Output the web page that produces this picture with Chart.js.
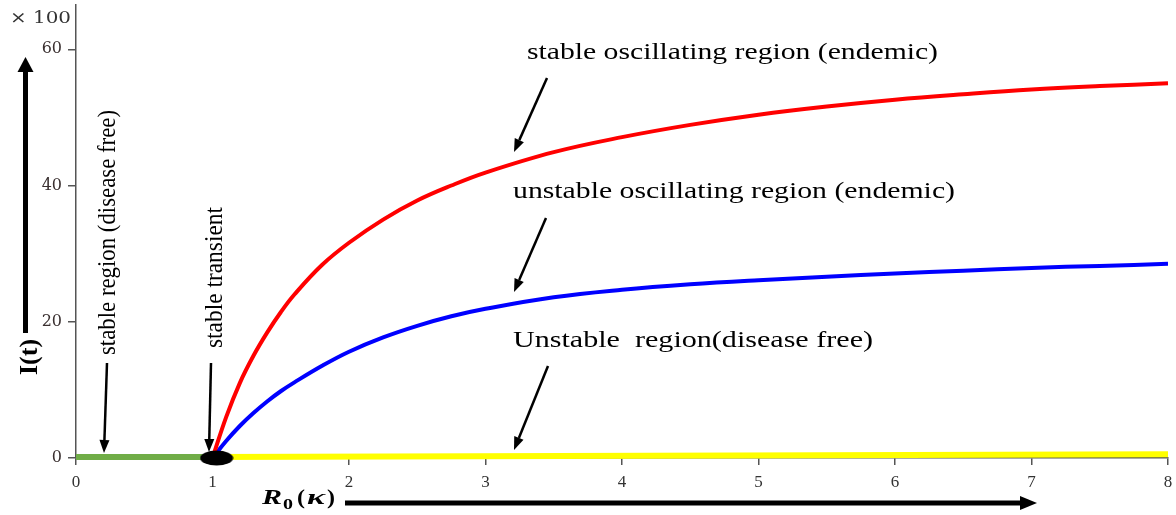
<!DOCTYPE html>
<html>
<head>
<meta charset="utf-8">
<script src="https://cdn.jsdelivr.net/npm/chart.js@4/dist/chart.umd.min.js"></script>
<style>
  html, body { margin: 0; padding: 0; background: #fff; }
  #wrap { width: 1176px; height: 515px; position: relative; }
</style>
</head>
<body>
<div id="wrap"><canvas id="chart" width="1176" height="515"></canvas></div>
<script>
// values (I(t) in units of 100)
const xCurve = [1, 1.1, 1.2, 1.3, 1.4, 1.5, 1.6, 1.8, 2, 2.25, 2.5, 2.75, 3, 3.5, 4, 4.5, 5, 5.5, 6, 6.5, 7, 7.5, 8];
const redI = [0, 6.0, 11.0, 15.0, 18.4, 21.4, 24.0, 28.3, 31.6, 35.0, 37.8, 40.0, 41.9, 44.9, 47.1, 48.9, 50.4, 51.6, 52.6, 53.4, 54.1, 54.6, 55.0];
const blueI = [0, 2.5, 4.7, 6.6, 8.3, 9.8, 11.1, 13.5, 15.6, 17.7, 19.4, 20.8, 21.9, 23.6, 24.7, 25.5, 26.1, 26.6, 27.1, 27.5, 27.9, 28.2, 28.5];
const xGreen = [0, 1];
const greenI = [0.15, 0.15];
const xYellow = [1, 8];
const yellowI = [0.15, 0.55];
const xTransient = [1.03];
const transientI = [0];
const xTicks = [0, 1, 2, 3, 4, 5, 6, 7, 8];
const yTicks = [0, 20, 40, 60];

function pts(xs, ys) {
  return xs.map((x, i) => ({ x: x, y: ys[i] }));
}

// black ellipse used as the point style of the transient point
const blob = document.createElement("canvas");
blob.width = 34;
blob.height = 16;
const bctx = blob.getContext("2d");
bctx.fillStyle = "#000";
bctx.beginPath();
bctx.ellipse(17, 8, 16.5, 7.5, 0, 0, Math.PI * 2);
bctx.fill();

function arrow(ctx, x1, y1, x2, y2, lw, head, hw) {
  const a = Math.atan2(y2 - y1, x2 - x1);
  const bx = x2 - head * Math.cos(a);
  const by = y2 - head * Math.sin(a);
  ctx.strokeStyle = "#000";
  ctx.fillStyle = "#000";
  ctx.lineWidth = lw;
  ctx.beginPath();
  ctx.moveTo(x1, y1);
  ctx.lineTo(bx, by);
  ctx.stroke();
  ctx.beginPath();
  ctx.moveTo(x2, y2);
  ctx.lineTo(bx + hw * Math.sin(a), by - hw * Math.cos(a));
  ctx.lineTo(bx - hw * Math.sin(a), by + hw * Math.cos(a));
  ctx.closePath();
  ctx.fill();
}

// the picture is stretched sideways, so text is scaled to the width it has there
function stretchText(ctx, text, x, y, width, font, color) {
  ctx.save();
  ctx.font = font;
  const m = ctx.measureText(text).width;
  ctx.translate(x, y);
  ctx.scale(width / m, 1);
  ctx.fillStyle = color || "#000";
  ctx.textBaseline = "alphabetic";
  ctx.textAlign = "left";
  ctx.fillText(text, 0, 0);
  ctx.restore();
}

function verticalText(ctx, text, x, y, len, font, thick) {
  ctx.save();
  ctx.font = font;
  const m = ctx.measureText(text).width;
  ctx.translate(x, y);
  ctx.rotate(-Math.PI / 2);
  ctx.scale(len / m, thick);
  ctx.fillStyle = "#000";
  ctx.textBaseline = "alphabetic";
  ctx.textAlign = "left";
  ctx.fillText(text, 0, 0);
  ctx.restore();
}

const notes = {
  id: "notes",
  afterDraw(chart) {
    const ctx = chart.ctx;
    ctx.save();
    const f = "24px 'Liberation Serif', 'Times New Roman', serif";
    stretchText(ctx, "stable oscillating region (endemic)", 527, 59, 411, f);
    stretchText(ctx, "unstable oscillating region (endemic)", 513, 198, 442, f);
    stretchText(ctx, "Unstable  region(disease free)", 513, 347, 360, f);
    const fv = "21px 'Liberation Serif', 'Times New Roman', serif";
    verticalText(ctx, "stable region (disease free)", 115, 355, 245, fv, 1.2);
    verticalText(ctx, "stable transient", 222, 348, 141, fv, 1.2);

    arrow(ctx, 547, 78, 514, 152, 2.5, 13, 5);
    arrow(ctx, 546, 218, 514, 292, 2.5, 13, 5);
    arrow(ctx, 548, 366, 514, 450, 2.5, 13, 5);
    arrow(ctx, 107, 363, 104, 453, 2.5, 13, 5);
    arrow(ctx, 211, 363, 209, 452, 2.5, 13, 5);

    // y title with its big arrow
    ctx.save();
    ctx.translate(37, 357);
    ctx.rotate(-Math.PI / 2);
    ctx.font = "bold 26px 'Liberation Serif', serif";
    ctx.textAlign = "center";
    ctx.fillStyle = "#000";
    ctx.fillText("I(t)", 0, 0);
    ctx.restore();
    arrow(ctx, 25.5, 333, 25.5, 57, 5, 15, 8);

    // x title R0(kappa) with its big arrow
    const fb = "bold italic 20px 'Liberation Serif', serif";
    const fr = "bold 20px 'Liberation Serif', serif";
    stretchText(ctx, "R", 262, 504, 20, fb);
    stretchText(ctx, "0", 283, 509, 10, "bold 14px 'Liberation Serif', serif");
    stretchText(ctx, "(", 297, 504, 8, fr);
    stretchText(ctx, "\u03BA", 307, 504, 18, fb);
    stretchText(ctx, ")", 327, 504, 8, fr);
    arrow(ctx, 345, 503, 1037, 503, 5, 17, 7);

    stretchText(ctx, "\u00D7 100", 10, 23, 61, "16px 'DejaVu Serif', serif", "#333");
    ctx.restore();
  }
};

new Chart(document.getElementById("chart").getContext("2d"), {
  type: "line",
  data: {
    datasets: [
      {
        label: "transient",
        type: "scatter",
        data: pts(xTransient, transientI),
        pointStyle: blob,
        clip: false,
      },
      {
        label: "stable oscillating",
        data: pts(xCurve, redI),
        borderColor: "#ff0000",
        borderWidth: 4,
        pointRadius: 0,
        tension: 0.4,
        clip: false,
      },
      {
        label: "unstable oscillating",
        data: pts(xCurve, blueI),
        borderColor: "#0000ff",
        borderWidth: 4,
        pointRadius: 0,
        tension: 0.4,
        clip: false,
      },
      {
        label: "stable disease free",
        data: pts(xGreen, greenI),
        borderColor: "#70ad47",
        borderWidth: 6,
        pointRadius: 0,
        clip: false,
      },
      {
        label: "unstable disease free",
        data: pts(xYellow, yellowI),
        borderColor: "#ffff00",
        borderWidth: 6,
        pointRadius: 0,
        clip: false,
      },
    ],
  },
  options: {
    responsive: false,
    animation: false,
    events: [],
    layout: { padding: { left: 0, right: 8, top: 0, bottom: 0 } },
    plugins: {
      legend: { display: false },
      tooltip: { enabled: false },
    },
    scales: {
      x: {
        type: "linear",
        min: 0,
        max: 8,
        afterBuildTicks: (s) => { s.ticks = xTicks.map((v) => ({ value: v })); },
        afterFit: (s) => { s.height = 57; s.paddingLeft = 0; s.paddingRight = 0; },
        grid: { display: true, drawOnChartArea: false, drawTicks: true, tickLength: 7, color: "#555", lineWidth: 1.5 },
        border: { display: true, color: "#555", width: 1.5 },
        ticks: {
          color: "#333",
          padding: 7,
          maxRotation: 0,
          font: { family: "'Liberation Serif', serif", size: 17 },
        },
      },
      y: {
        type: "linear",
        min: 0,
        max: 66.5,
        afterBuildTicks: (s) => { s.ticks = yTicks.map((v) => ({ value: v })); },
        afterFit: (s) => { s.width = 76; s.paddingTop = 0; s.paddingBottom = 0; },
        grid: { display: true, drawOnChartArea: false, drawTicks: true, tickLength: 8, color: "#555", lineWidth: 1.5 },
        border: { display: true, color: "#555", width: 1.5 },
        ticks: {
          color: "#3a3030",
          padding: 6,
          font: { family: "'DejaVu Serif', serif", size: 16 },
        },
      },
    },
  },
  plugins: [notes],
});
</script>
</body>
</html>
